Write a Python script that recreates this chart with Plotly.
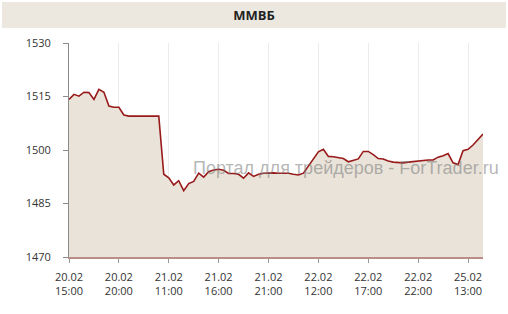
import plotly.graph_objects as go

# Data: MICEX index (ММВБ), sampled along the category axis
values = [
    1514.2, 1515.6, 1515.1, 1516.2, 1516.1, 1514.2, 1517.0, 1516.2, 1512.3, 1512.0,
    1512.0, 1509.8, 1509.5, 1509.5, 1509.5, 1509.6, 1509.6, 1509.7, 1509.5, 1493.2,
    1492.2, 1490.2, 1491.4, 1488.6, 1490.6, 1491.2, 1493.5, 1492.4, 1493.9, 1494.4,
    1494.6, 1494.3, 1493.4, 1493.4, 1493.2, 1492.1, 1493.6, 1492.6, 1493.2, 1493.5,
    1493.6, 1493.6, 1493.5, 1493.6, 1493.5, 1493.2, 1493.0, 1493.5, 1495.5, 1497.2,
    1499.5, 1500.2, 1498.2, 1498.1, 1497.9, 1497.6, 1496.7, 1497.2, 1497.5, 1499.6,
    1499.6, 1498.7, 1497.6, 1497.5, 1496.9, 1496.6, 1496.4, 1496.4, 1496.6, 1496.8,
    1497.0, 1497.2, 1497.2, 1497.2, 1498.0, 1498.4, 1499.0, 1496.4, 1495.9, 1499.8,
    1500.2, 1501.4, 1503.0, 1504.5,
]
x_index = list(range(len(values)))

tick_positions = [0, 10, 20, 30, 40, 50, 60, 70, 80]
tick_labels = [
    "20.02<br>15:00", "20.02<br>20:00", "21.02<br>11:00", "21.02<br>16:00",
    "21.02<br>21:00", "22.02<br>12:00", "22.02<br>17:00", "22.02<br>22:00",
    "25.02<br>13:00",
]
y_ticks = [1470, 1485, 1500, 1515, 1530]

title_text = "ММВБ"
watermark = "Портал для трейдеров - ForTrader.ru"

fig = go.Figure()
fig.add_trace(go.Scatter(
    x=x_index, y=values, mode="lines",
    line=dict(color="#981a1a", width=1.6),
    fill="tozeroy", fillcolor="#e9e3d9",
    hoverinfo="skip", showlegend=False,
))

fig.update_layout(
    width=508, height=314,
    margin=dict(l=69, r=25, t=43, b=57),
    paper_bgcolor="white", plot_bgcolor="white",
    font=dict(family="Open Sans, sans-serif", size=11, color="#333333"),
    title=dict(text="<b>" + title_text + "</b>", x=0.5, xanchor="center",
               y=1 - 15 / 314, yanchor="middle",
               font=dict(size=13, color="#222222")),
    xaxis=dict(
        range=[0, 83], tickmode="array", tickvals=tick_positions, ticktext=tick_labels,
        showgrid=True, gridcolor="#ececec", gridwidth=1,
        showline=True, linecolor="#b98e88", linewidth=1.5,
        ticks="outside", ticklen=4, tickcolor="#999999",
        ticklabelstandoff=5,
        zeroline=False, tickfont=dict(size=11, color="#333333"),
    ),
    yaxis=dict(
        range=[1470, 1530], tickmode="array", tickvals=y_ticks,
        showgrid=False, showline=True, linecolor="#8a8a8a", linewidth=1,
        ticks="outside", ticklen=5, tickcolor="#8a8a8a",
        ticklabelstandoff=10,
        zeroline=False, tickfont=dict(size=11, color="#333333"),
    ),
    shapes=[dict(
        type="rect", xref="paper", yref="paper",
        x0=(2 - 69) / 414, x1=(506 - 69) / 414,
        y0=(257 - 28) / 214, y1=(257 - 2) / 214,
        fillcolor="#ece8df", line=dict(width=0), layer="below",
    )],
    annotations=[dict(
        text=watermark, xref="paper", yref="paper",
        x=(346 - 69) / 414, y=(257 - 168) / 214,
        xanchor="center", yanchor="middle", showarrow=False,
        font=dict(family="Liberation Sans, Arial, sans-serif", size=18,
                  color="rgba(120,120,120,0.55)"),
    )],
)

fig.write_html("out.html")
